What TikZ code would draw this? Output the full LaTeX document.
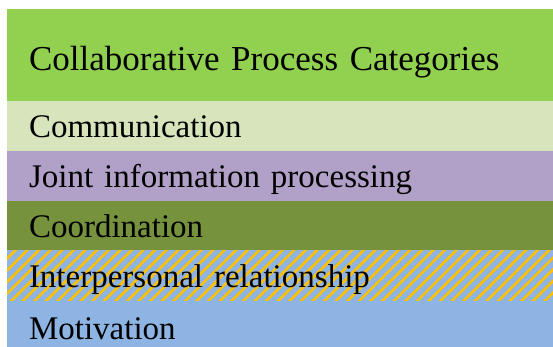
\documentclass[tikz,border=0pt]{standalone}
\usepackage{fontspec}
\setmainfont{Liberation Serif}
\usepackage{xcolor}
\usetikzlibrary{positioning, patterns.meta}

\definecolor{headgreen}{HTML}{92D050}
\definecolor{commgreen}{HTML}{D8E4BC}
\definecolor{jointlilac}{HTML}{B1A0C7}
\definecolor{coordolive}{HTML}{76923C}
\definecolor{motblue}{HTML}{8DB4E2}
\definecolor{hatchyellow}{HTML}{FFC000}

\begin{document}
\begin{tikzpicture}[
        x=1pt, y=-1pt,
        row/.style={rectangle, outer sep=0pt, inner xsep=22pt, inner ysep=0pt,
                    minimum width=546pt, minimum height=50pt, text width=502pt, align=left,
                    text height=24pt, text depth=0pt, font=\fontsize{33}{36}\selectfont},
        head/.style={row, minimum height=92pt, text height=32pt,
                     font=\fontsize{35}{40}\selectfont, fill=headgreen},
        hatched/.style={fill=motblue,
                        postaction={pattern={Lines[angle=45, distance=8.2pt, line width=2.6pt]},
                                    pattern color=hatchyellow}},
    ]
        \clip (0,0) rectangle (553,347);
        \fill[white] (0,0) rectangle (553,347);

        \node[head, anchor=north west] (title) at (7,9) {Collaborative Process Categories};
        \node[row, fill=commgreen, below=0pt of title] (comm) {Communication};
        \node[row, fill=jointlilac, below=0pt of comm] (joint) {Joint information processing};
        \node[row, fill=coordolive, minimum height=49pt, below=0pt of joint] (coord) {Coordination};
        \node[row, hatched, minimum height=51pt, below=0pt of coord] (interp) {Interpersonal relationship};
        \node[row, fill=motblue, minimum height=52pt, below=0pt of interp] (motiv) {Motivation};
    \end{tikzpicture}
\end{document}
